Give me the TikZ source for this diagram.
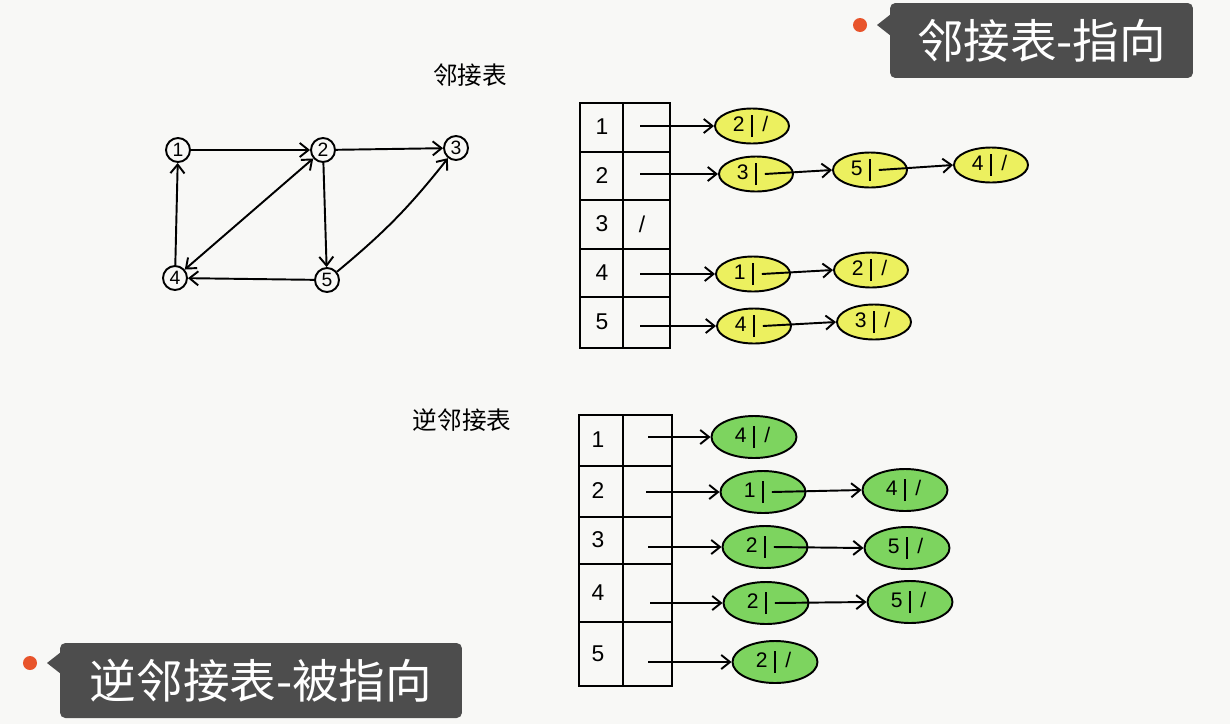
\documentclass[tikz,border=0pt]{standalone}
\usepackage{fontspec}
\setmainfont{Liberation Sans}
\newfontfamily\cjk{Noto Sans CJK SC}
\usetikzlibrary{arrows.meta,shapes.geometric}
\definecolor{bg}{RGB}{248,248,246}
\definecolor{ylw}{RGB}{236,240,95}
\definecolor{grn}{RGB}{125,212,95}
\definecolor{tagbg}{RGB}{77,77,77}
\definecolor{tagdot}{RGB}{232,84,43}
\newcommand\ent[2]{\makebox[5mm]{#1}\rule[-1.2mm]{0.9pt}{4.4mm}\makebox[5mm]{#2}}
\tikzset{
  ink/.style={line width=1.1pt, draw=black},
  arr/.style={ink, -{Straight Barb[length=5pt,width=8pt]}},
  darr/.style={ink, {Straight Barb[length=5pt,width=8pt]}-{Straight Barb[length=5pt,width=8pt]}},
  gnode/.style={circle, ink, minimum size=0.48cm, inner sep=0pt, font=\fontsize{11}{12}\selectfont},
  num/.style={inner sep=0pt, font=\fontsize{13}{14}\selectfont},
  ynode/.style={ellipse, ink, fill=ylw, minimum width=1.48cm, minimum height=0.7cm, inner sep=0pt, font=\fontsize{12}{14}\selectfont},
  gnnode/.style={ellipse, ink, fill=grn, minimum width=1.7cm, minimum height=0.84cm, inner sep=0pt, font=\fontsize{12}{14}\selectfont},
  hand/.style={inner sep=0pt, font=\cjk\fontsize{14}{16}\selectfont},
  tag/.style={fill=tagbg, rounded corners=3pt, text=white, inner sep=0pt, font=\cjk\fontsize{26.5}{30}\selectfont}
}
\begin{document}
\begin{tikzpicture}[x=0.02cm, y=-0.02cm]
\useasboundingbox (0,0) rectangle (1230,724);
\fill[bg] (0,0) rectangle (1230,724);

% ---------- tags ----------
\node[tag, minimum width=6.06cm, minimum height=1.5cm] (tagA) at (1041.5,40.5) {邻接表-指向};
\fill[tagbg] (877,25) -- (891,14) -- (891,36) -- cycle;
\fill[tagdot] (860,25) circle[radius=7];
\node[tag, minimum width=8.04cm, minimum height=1.5cm] (tagB) at (261,680.5) {逆邻接表-被指向};
\fill[tagbg] (47,663) -- (61,652) -- (61,674) -- cycle;
\fill[tagdot] (30,663) circle[radius=7];

% ---------- handwritten titles ----------
\node[hand] (h1) at (470,75) {邻接表};
\node[hand] (h2) at (462,420) {逆邻接表};

% ---------- graph ----------
\node[gnode] (g1) at (178,150) {1};
\node[gnode] (g2) at (323,150) {2};
\node[gnode] (g3) at (456,148) {3};
\node[gnode] (g4) at (175,278) {4};
\node[gnode] (g5) at (327,280) {5};
\draw[arr] (g1) -- (g2);
\draw[arr] (g2) -- (g3);
\draw[arr] (g4) -- (g1);
\draw[darr] (g4) -- (g2);
\draw[arr] (g2) -- (g5);
\draw[arr] (g5) -- (g4);
\draw[arr] (g5) to[bend right=6] (g3);

% ---------- upper table ----------
\draw[ink] (580,103) rectangle (670,348);
\draw[ink] (623,103) -- (623,348);
\foreach \yy in {152,200,249,297} \draw[ink] (580,\yy) -- (670,\yy);
\node[num] (k1) at (602,127) {1};
\node[num] (k2) at (602,176) {2};
\node[num] (k3) at (602,224) {3};
\node[num] (k4) at (602,273) {4};
\node[num] (k5) at (602,322) {5};
\node[num] (n3) at (642,224) {/};
\coordinate (p1) at (640,126);
\coordinate (p2) at (640,174);
\coordinate (p4) at (640,274);
\coordinate (p5) at (640,326);

\node[ynode] (a1) at (752,126) {\ent{2}{/}};
\node[ynode] (a2) at (756,174) {\ent{3}{}};
\node[ynode] (a3) at (870,170) {\ent{5}{}};
\node[ynode] (a4) at (991,165) {\ent{4}{/}};
\node[ynode] (a5) at (753,274) {\ent{1}{}};
\node[ynode] (a6) at (871,270) {\ent{2}{/}};
\node[ynode] (a7) at (754,326) {\ent{4}{}};
\node[ynode] (a8) at (874,322) {\ent{3}{/}};
\draw[arr] (p1) -- (a1.west);
\draw[arr] (p2) -- (a2.west);
\draw[arr] (p4) -- (a5.west);
\draw[arr] (p5) -- (a7.west);
\draw[arr] ([xshift=5pt]a2.center) -- (a3.west);
\draw[arr] ([xshift=5pt]a3.center) -- (a4.west);
\draw[arr] ([xshift=5pt]a5.center) -- (a6.west);
\draw[arr] ([xshift=5pt]a7.center) -- (a8.west);

% ---------- lower table ----------
\draw[ink] (579,415) rectangle (672,686);
\draw[ink] (623,415) -- (623,686);
\foreach \yy in {466,517,564,622} \draw[ink] (579,\yy) -- (672,\yy);
\node[num] (r1) at (598,440) {1};
\node[num] (r2) at (598,491) {2};
\node[num] (r3) at (598,540) {3};
\node[num] (r4) at (598,593) {4};
\node[num] (r5) at (598,654) {5};
\coordinate (q1) at (648,437);
\coordinate (q2) at (646,492);
\coordinate (q3) at (648,547);
\coordinate (q4) at (650,603);
\coordinate (q5) at (648,662);

\node[gnnode] (b1) at (754,437) {\ent{4}{/}};
\node[gnnode] (b2) at (763,492) {\ent{1}{}};
\node[gnnode] (b3) at (905,490) {\ent{4}{/}};
\node[gnnode] (b4) at (765,547) {\ent{2}{}};
\node[gnnode] (b5) at (907,548) {\ent{5}{/}};
\node[gnnode] (b6) at (766,603) {\ent{2}{}};
\node[gnnode] (b7) at (910,602) {\ent{5}{/}};
\node[gnnode] (b8) at (775,662) {\ent{2}{/}};
\draw[arr] (q1) -- (b1.west);
\draw[arr] (q2) -- (b2.west);
\draw[arr] (q3) -- (b4.west);
\draw[arr] (q4) -- (b6.west);
\draw[arr] (q5) -- (b8.west);
\draw[arr] ([xshift=5pt]b2.center) -- (b3.west);
\draw[arr] ([xshift=5pt]b4.center) -- (b5.west);
\draw[arr] ([xshift=5pt]b6.center) -- (b7.west);
\end{tikzpicture}
\end{document}
